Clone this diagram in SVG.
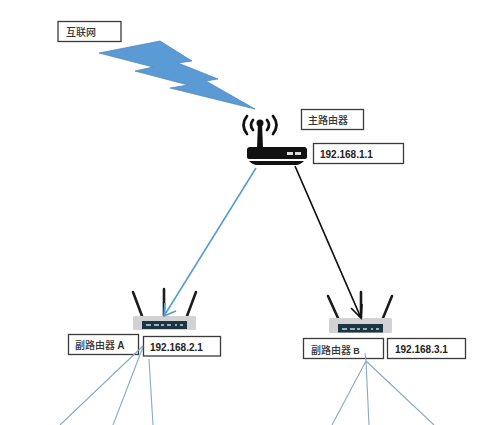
<svg xmlns="http://www.w3.org/2000/svg" width="500" height="425" viewBox="0 0 500 425">
<style>
.box{fill:#fff;stroke:#3a3a3a;stroke-width:1.3}
.t{font-family:"Noto Sans CJK SC","Liberation Sans",sans-serif;font-size:10px;font-weight:500;fill:#333}
.ip{font-family:"Liberation Sans",sans-serif;font-size:10px;font-weight:bold;fill:#222}
.ant{stroke:#1c1c1c;stroke-width:2.6;stroke-linecap:round;fill:none}
.body{fill:#d2d2d4}
.panel{fill:#1f3442}
.led{fill:#8fb5bd}
.thin{stroke:#86a9c4;stroke-width:1.1;fill:none}
.blue{stroke:#5a9bd0;stroke-width:1.6;fill:none}
.black{stroke:#111;stroke-width:1.7;fill:none}
</style>
<rect width="500" height="425" fill="#fff"/>
<g id="bolt"><polygon points="99,53 160,41 192,61 178,63 218,79 206,81 255,109 170,88 188,85 135,71 153,67" fill="#5b9bd5" stroke="#4a82b4" stroke-width="0.7"/></g>
<g id="internet"><rect class="box" x="58" y="21.500" width="63" height="20"/><text class="t" x="66" y="36">互联网</text></g>
<g id="main-router">
<path d="M253,120 Q249,125 253,130 M247,116 Q240,125 247,134 M267,120 Q271,125 267,130 M273,116 Q280,125 273,134" fill="none" stroke="#111" stroke-width="2.8" stroke-linecap="round"/>
<circle cx="260" cy="123" r="3.500" fill="#111"/>
<path d="M258,123 H262 L263,148 H257 Z" fill="#111"/>
<path d="M250,147 H304 Q307,147 307,150 V157 Q307,159 304,159 H250 Q247,159 247,157 V150 Q247,147 250,147 Z" fill="#111"/>
<rect x="287" y="152" width="6" height="3" fill="#ddd"/><rect x="295" y="152" width="6" height="3" fill="#ddd"/>
<path d="M249,161 H304 Q300,165 296,165 H257 Q253,165 249,161 Z" fill="#111"/>
</g>
<g id="main-label"><rect class="box" x="301.500" y="109.500" width="62" height="20"/><text class="t" x="308" y="124">主路由器</text></g>
<g id="main-ip"><rect class="box" x="313.500" y="143.500" width="90" height="20"/><text class="ip" x="320" y="158">192.168.1.1</text></g>
<g id="router-a">
<path class="ant" d="M133,292 L142,316 M164,289 V316 M196,292 L187,316"/>
<rect class="body" x="133" y="316" width="63" height="14" rx="1.500"/>
<rect class="panel" x="142" y="321" width="45" height="8"/>
<path class="led" d="M146,324h5v2h-5zM154,324h5v2h-5zM161,324h3v2h-3zM167,324h4v2h-4zM175,324h2v2h-2zM180,324h3v2h-3z"/>
</g>
<g id="router-a-label"><rect class="box" x="68.500" y="334.500" width="70" height="20"/><text class="t" x="75" y="349">副路由器 <tspan font-weight="bold" font-family="Liberation Sans">A</tspan></text></g>
<g id="router-a-ip"><rect class="box" x="143.500" y="336.500" width="77" height="19.500"/><text class="ip" x="150" y="351">192.168.2.1</text></g>
<g id="router-b">
<path class="ant" d="M328,296 L338,318 M361,292 V318 M392,296 L383,318"/>
<rect class="body" x="329" y="318" width="63" height="15" rx="1.500"/>
<rect class="panel" x="338" y="324" width="45" height="8.500"/>
<path class="led" d="M342,328h5v2h-5zM350,328h5v2h-5zM357,328h3v2h-3zM363,328h4v2h-4zM371,328h2v2h-2zM376,328h3v2h-3z"/>
</g>
<g id="router-b-label"><rect class="box" x="303.500" y="338.500" width="80" height="20"/><text class="t" x="311" y="354">副路由器 <tspan font-weight="bold" font-family="Liberation Sans" font-size="9">B</tspan></text></g>
<g id="router-b-ip"><rect class="box" x="387.500" y="338.500" width="78" height="20"/><text class="ip" x="395" y="353">192.168.3.1</text></g>
<g id="connectors">
<path class="blue" d="M256,168 L164,316 M165,303 L164,316 L176,311"/>
<path class="black" d="M295,166 L361,318 M351,308 L361,318 L362,304"/>
<path class="thin" d="M143,346 L60,425 M143,347 L113,425 M149,359 L153,425 M365,353 L366,361 M366,361 L332,425 M366,361 L369,425 M366,361 L434,425"/>
</g>
</svg>
